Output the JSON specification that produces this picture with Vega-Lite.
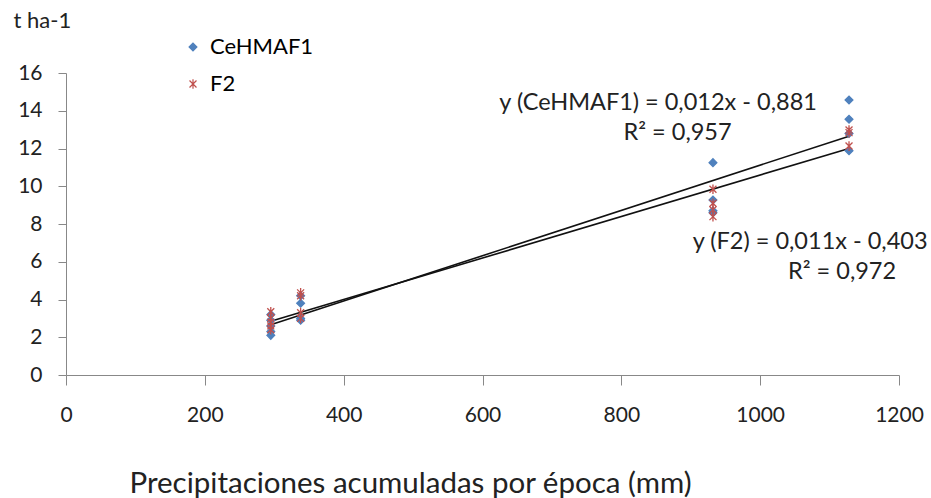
{
  "$schema": "https://vega.github.io/schema/vega-lite/v6.json",
  "width": 833,
  "height": 302,
  "autosize": {"type": "none"},
  "padding": {"left": 66, "top": 73, "right": 32, "bottom": 123},
  "background": "white",
  "config": {
    "view": {"stroke": null},
    "font": "Lato",
    "axis": {"labelFont": "Lato", "titleFont": "Lato", "labelColor": "#222", "titleColor": "#222", "domainColor": "#888", "tickColor": "#888", "grid": false, "titleFontWeight": "normal", "labelOverlap": false, "labelFlush": false},
    "legend": {"labelFont": "Lato"}
  },
  "datasets": {
    "obs": [
      {"lluvia": 295, "rend": 2.1, "serie": "CeHMAF1"},
      {"lluvia": 295, "rend": 2.3, "serie": "CeHMAF1"},
      {"lluvia": 295, "rend": 2.6, "serie": "CeHMAF1"},
      {"lluvia": 295, "rend": 2.9, "serie": "CeHMAF1"},
      {"lluvia": 295, "rend": 3.2, "serie": "CeHMAF1"},
      {"lluvia": 338, "rend": 2.9, "serie": "CeHMAF1"},
      {"lluvia": 338, "rend": 3.0, "serie": "CeHMAF1"},
      {"lluvia": 338, "rend": 3.8, "serie": "CeHMAF1"},
      {"lluvia": 338, "rend": 4.2, "serie": "CeHMAF1"},
      {"lluvia": 932, "rend": 8.6, "serie": "CeHMAF1"},
      {"lluvia": 932, "rend": 8.7, "serie": "CeHMAF1"},
      {"lluvia": 932, "rend": 9.27, "serie": "CeHMAF1"},
      {"lluvia": 932, "rend": 11.25, "serie": "CeHMAF1"},
      {"lluvia": 1128, "rend": 11.88, "serie": "CeHMAF1"},
      {"lluvia": 1128, "rend": 12.8, "serie": "CeHMAF1"},
      {"lluvia": 1128, "rend": 13.55, "serie": "CeHMAF1"},
      {"lluvia": 1128, "rend": 14.57, "serie": "CeHMAF1"},
      {"lluvia": 295, "rend": 2.4, "serie": "F2"},
      {"lluvia": 295, "rend": 2.6, "serie": "F2"},
      {"lluvia": 295, "rend": 2.8, "serie": "F2"},
      {"lluvia": 295, "rend": 3.0, "serie": "F2"},
      {"lluvia": 295, "rend": 3.35, "serie": "F2"},
      {"lluvia": 338, "rend": 3.0, "serie": "F2"},
      {"lluvia": 338, "rend": 3.3, "serie": "F2"},
      {"lluvia": 338, "rend": 4.2, "serie": "F2"},
      {"lluvia": 338, "rend": 4.35, "serie": "F2"},
      {"lluvia": 932, "rend": 8.39, "serie": "F2"},
      {"lluvia": 932, "rend": 8.75, "serie": "F2"},
      {"lluvia": 932, "rend": 9.1, "serie": "F2"},
      {"lluvia": 932, "rend": 9.84, "serie": "F2"},
      {"lluvia": 1128, "rend": 12.13, "serie": "F2"},
      {"lluvia": 1128, "rend": 12.84, "serie": "F2"},
      {"lluvia": 1128, "rend": 12.98, "serie": "F2"}
    ],
    "ajuste": [
      {"lluvia": 295, "rend": 2.659, "serie": "CeHMAF1"},
      {"lluvia": 1128, "rend": 12.655, "serie": "CeHMAF1"},
      {"lluvia": 295, "rend": 2.842, "serie": "F2"},
      {"lluvia": 1128, "rend": 12.005, "serie": "F2"}
    ],
    "ecuaciones": [
      {"lluvia": 853, "rend": 14.41, "texto": "y (CeHMAF1) = 0,012x - 0,881"},
      {"lluvia": 881, "rend": 12.82, "texto": "R² = 0,957"},
      {"lluvia": 1072, "rend": 7.05, "texto": "y (F2) = 0,011x - 0,403"},
      {"lluvia": 1118, "rend": 5.46, "texto": "R² = 0,972"}
    ]
  },
  "encoding": {
    "x": {
      "field": "lluvia", "type": "quantitative",
      "scale": {"domain": [0, 1200], "nice": false},
      "axis": {
        "values": [0, 200, 400, 600, 800, 1000, 1200], "format": "d",
        "tickSize": 10, "labelPadding": 19, "labelFontSize": 21,
        "title": "Precipitaciones acumuladas por época (mm)",
        "titleFontSize": 29.5, "titleAnchor": null, "titleAlign": "center",
        "titleBaseline": "middle", "titleX": 344, "titleY": 108
      }
    },
    "y": {
      "field": "rend", "type": "quantitative",
      "scale": {"domain": [0, 16], "nice": false},
      "axis": {
        "values": [0, 2, 4, 6, 8, 10, 12, 14, 16],
        "tickSize": 8, "labelPadding": 16, "labelFontSize": 21,
        "title": "t ha-1", "titleAngle": 0, "titleFontSize": 22,
        "titleAlign": "left", "titleBaseline": "middle",
        "titleX": -53, "titleY": -53
      }
    }
  },
  "layer": [
    {
      "data": {"name": "ajuste"},
      "mark": {"type": "line", "color": "#111", "strokeWidth": 1.6},
      "encoding": {
        "detail": {"field": "serie"}
      }
    },
    {
      "data": {"name": "obs"},
      "mark": {"type": "point", "filled": true, "opacity": 1, "strokeWidth": 1.3},
      "encoding": {
        "color": {
          "field": "serie", "type": "nominal",
          "scale": {"domain": ["CeHMAF1", "F2"], "range": ["#4F81BD", "#C0504D"]},
          "legend": {
            "title": null, "orient": "none", "legendX": 116, "legendY": -37,
            "labelFontSize": 22, "rowPadding": 15, "symbolSize": 60,
            "symbolStrokeWidth": 1.2, "labelOffset": 6, "padding": 0
          }
        },
        "stroke": {
          "field": "serie", "type": "nominal",
          "scale": {"domain": ["CeHMAF1", "F2"], "range": ["#4F81BD", "#C0504D"]},
          "legend": null
        },
        "shape": {
          "field": "serie", "type": "nominal",
          "scale": {"domain": ["CeHMAF1", "F2"], "range": ["diamond", "M-0.9,-0.9L0.9,0.9M-0.9,0.9L0.9,-0.9M0,-1.25L0,1.25"]},
          "legend": {"title": null}
        },
        "size": {"value": 60}
      }
    },
    {
      "data": {"name": "ecuaciones"},
      "mark": {"type": "text", "fontSize": 23.5, "font": "Lato", "color": "#222", "align": "center", "baseline": "middle"},
      "encoding": {
        "text": {"field": "texto"}
      }
    }
  ]
}
